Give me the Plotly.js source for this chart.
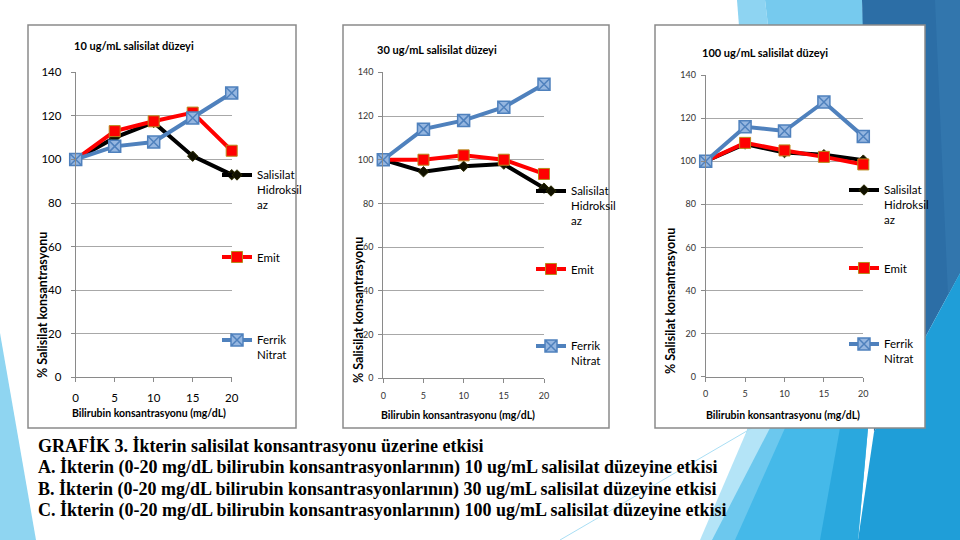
<!DOCTYPE html>
<html><head><meta charset="utf-8">
<script src="https://cdn.plot.ly/plotly-3.0.1.min.js"></script>
<style>html,body{margin:0;padding:0;background:#fff}#chart{width:960px;height:540px}</style>
</head><body><div id="chart"></div>
<script>
// ---- data ----
const bilirubin = [0, 5, 10, 15, 20];
const seriesNames = ['Salisilat<br>Hidroksil<br>az', 'Emit', 'Ferrik<br>Nitrat'];
const panelTitles = ['10 ug/mL salisilat düzeyi', '30 ug/mL salisilat düzeyi', '100 ug/mL salisilat düzeyi'];
const hidroksilaz10 = [100, 110, 117, 101.5, 93];
const emit10 = [100, 113, 117.5, 121.5, 104];
const ferrik10 = [100, 106, 108, 119, 130.5];
const hidroksilaz30 = [100, 94.5, 97, 98, 87];
const emit30 = [100, 100, 102, 100, 93.5];
const ferrik30 = [100, 114, 118, 124, 134.5];
const hidroksilaz100 = [100, 108, 104, 103, 100.5];
const emit100 = [100, 108.5, 105, 102, 98.5];
const ferrik100 = [100, 116, 114, 127.5, 111.5];
const yTitle = '% Salisilat konsantrasyonu';
const xTitle = 'Bilirubin konsantrasyonu (mg/dL)';
const captionLines = [
  'GRAFİK 3. İkterin salisilat konsantrasyonu üzerine etkisi',
  'A. İkterin (0-20 mg/dL bilirubin konsantrasyonlarının) 10 ug/mL salisilat düzeyine etkisi',
  'B. İkterin (0-20 mg/dL bilirubin konsantrasyonlarının) 30 ug/mL salisilat düzeyine etkisi',
  'C. İkterin (0-20 mg/dL bilirubin konsantrasyonlarının) 100 ug/mL salisilat düzeyine etkisi'
];
const panelData = [
  [hidroksilaz10, emit10, ferrik10],
  [hidroksilaz30, emit30, ferrik30],
  [hidroksilaz100, emit100, ferrik100]
];

// ---- layout helpers ----
const W = 960, H = 540;
const px = x => x / W, py = y => 1 - y / H;
function poly(pts) { return 'M' + pts.map(p => px(p[0]).toFixed(5) + ',' + py(p[1]).toFixed(5)).join('L') + 'Z'; }

const FONT = 'Lato, "Liberation Sans", sans-serif';

const panels = [
  { xd: [75.7, 231.7], yd: [377.3, 72.3], box: [28, 25, 296, 428], title: [134, 46], ytl: [42, 305], xtl: [149, 413], tickSize: 11.5, tickColor: '#000', leg: [257, [175, 257, 340]], ystand: 7, xstand: 6 },
  { xd: [383.3, 544], yd: [378.3, 72.3], box: [343, 25, 609, 428], title: [437, 50], ytl: [358, 310], xtl: [458, 415], tickSize: 9, tickColor: '#333', leg: [571, [191, 269, 346]], ystand: 3, xstand: 5 },
  { xd: [705.7, 863.3], yd: [376.7, 75], box: [655, 25, 925, 428], title: [765, 53], ytl: [670, 301], xtl: [783, 415], tickSize: 9, tickColor: '#333', leg: [884, [190, 268, 344]], ystand: 3, xstand: 4 }
];

const styles = [
  { line: { color: '#000000', width: 4 }, marker: { symbol: 'diamond', size: 8, color: '#111100', line: { color: '#2a2a00', width: 1 } } },
  { line: { color: '#ff0000', width: 4 }, marker: { symbol: 'square', size: 11, color: '#ff0000', line: { color: '#b88a1c', width: 1 } } },
  { line: { color: '#4f81bd', width: 4 }, marker: { symbol: 'square-x', size: 12, color: '#95b6e0', line: { color: '#4f81bd', width: 1.5 } } }
];

const traces = [];
const layout = {
  width: W, height: H, margin: { l: 0, r: 0, t: 0, b: 0 },
  paper_bgcolor: '#ffffff', plot_bgcolor: 'rgba(0,0,0,0)',
  showlegend: true, shapes: [], annotations: [],
  font: { family: FONT, color: '#000' }
};

// background decoration
const bg = [
  { pts: [[0, 333], [36, 540], [0, 540]], c: '#8fd5f1' },
  { pts: [[737, 0], [765, 0], [800, 300], [760, 300]], c: '#8ed4f2' },
  { pts: [[765, 0], [862, 0], [880, 300], [800, 300]], c: '#76caee' },
  { pts: [[862, 0], [960, 0], [960, 273], [874, 432]], c: '#2c6ea6' },
  { pts: [[935, 0], [960, 0], [960, 273], [948, 295]], c: '#3276ad' },
  { pts: [[960, 273], [960, 540], [858, 540], [874, 432]], c: '#1f9ed8' },
  { pts: [[748, 428], [868, 428], [858, 540], [712, 540]], c: '#45b9e9' },
  { pts: [[748, 428], [785, 428], [735, 540], [712, 540]], c: '#6cc8ee' },
  { pts: [[748, 428], [770, 428], [712, 540], [700, 540]], c: '#b4e4f7' },
  { pts: [[840, 428], [868, 428], [858, 540], [820, 540]], c: '#2aa8de' }
];
bg.forEach(s => layout.shapes.push({ type: 'path', xref: 'paper', yref: 'paper', path: poly(s.pts), fillcolor: s.c, line: { width: 0 }, layer: 'below' }));
layout.shapes.push({ type: 'line', xref: 'paper', yref: 'paper', x0: px(752), y0: py(428), x1: px(560), y1: py(540), line: { color: '#a9def4', width: 1 }, layer: 'below' });

panels.forEach((p, i) => {
  const n = i === 0 ? '' : String(i + 1);
  const xa = 'xaxis' + n, ya = 'yaxis' + n;
  layout.shapes.push({ type: 'rect', xref: 'paper', yref: 'paper', x0: px(p.box[0]), x1: px(p.box[2]), y0: py(p.box[3]), y1: py(p.box[1]), fillcolor: '#ffffff', line: { color: '#8a8a8a', width: 1.5 }, layer: 'below' });
  layout[xa] = {
    domain: [px(p.xd[0]), px(p.xd[1])], anchor: 'y' + n, range: [0, 20], tickvals: bilirubin,
    showgrid: false, zeroline: false, showline: true, linecolor: '#8a8a8a', linewidth: 1,
    ticks: 'outside', ticklen: 4, tickcolor: '#8a8a8a', ticklabelstandoff: p.xstand,
    tickfont: { family: FONT, size: p.tickSize, color: p.tickColor }, fixedrange: true
  };
  layout[ya] = {
    domain: [py(p.yd[0]), py(p.yd[1])], anchor: 'x' + n, range: [0, 140], tickvals: [0, 20, 40, 60, 80, 100, 120, 140],
    showgrid: true, gridcolor: '#a8a8a8', gridwidth: 1, zeroline: false, showline: true, linecolor: '#8a8a8a', linewidth: 1,
    ticks: 'outside', ticklen: 4, tickcolor: '#8a8a8a', ticklabelstandoff: p.ystand,
    tickfont: { family: FONT, size: p.tickSize, color: p.tickColor }, fixedrange: true
  };
  layout.annotations.push({ xref: 'paper', yref: 'paper', x: px(p.title[0]), y: py(p.title[1]), xanchor: 'center', yanchor: 'middle', showarrow: false, text: '<b>' + panelTitles[i] + '</b>', font: { family: FONT, size: 11, color: '#000' } });
  layout.annotations.push({ xref: 'paper', yref: 'paper', x: px(p.ytl[0]), y: py(p.ytl[1]), xanchor: 'center', yanchor: 'middle', textangle: -90, showarrow: false, text: '<b>' + yTitle + '</b>', font: { family: FONT, size: 12.5, color: '#000' } });
  layout.annotations.push({ xref: 'paper', yref: 'paper', x: px(p.xtl[0]), y: py(p.xtl[1]), xanchor: 'center', yanchor: 'middle', showarrow: false, text: '<b>' + xTitle + '</b>', font: { family: FONT, size: 10.5, color: '#000' } });
  panelData[i].forEach((vals, k) => {
    const idx = i * 3 + k;
    const legName = 'legend' + (idx === 0 ? '' : String(idx + 1));
    traces.push({
      type: 'scatter', mode: 'lines+markers', x: bilirubin, y: vals, xaxis: 'x' + n, yaxis: 'y' + n,
      name: seriesNames[k], legend: legName, cliponaxis: false, hoverinfo: 'skip',
      line: styles[k].line, marker: styles[k].marker
    });
    layout[legName] = {
      x: px(p.leg[0] - 40), y: py(p.leg[1][k] - 14), xanchor: 'left', yanchor: 'top', valign: 'top',
      bgcolor: 'rgba(0,0,0,0)', borderwidth: 0, itemwidth: 30,
      font: { family: FONT, size: 11.5, color: '#000' }
    };
  });
});

// caption
const capY = [446, 467, 489, 510];
captionLines.forEach((t, j) => layout.annotations.push({ xref: 'paper', yref: 'paper', x: px(36), y: py(capY[j]), xanchor: 'left', yanchor: 'middle', showarrow: false, text: '<b>' + t + '</b>', font: { family: '"Liberation Serif", "Times New Roman", serif', size: 18, color: '#000' } }));

Plotly.newPlot('chart', traces, layout, { staticPlot: true, displayModeBar: false });
</script>
</body></html>
